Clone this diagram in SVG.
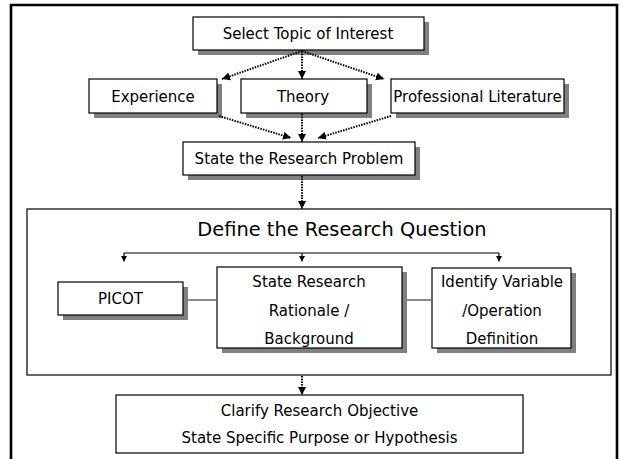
<svg xmlns="http://www.w3.org/2000/svg" width="621" height="459" viewBox="0 0 621 459">
  <style>
    text { font-family: "DejaVu Sans", "Liberation Sans", sans-serif; font-size: 15px; fill: #000; text-anchor: middle; }
    .title { font-size: 19.4px; }
    .box { fill: #fff; stroke: #000; stroke-width: 1.2; }
    .shadow { fill: #808080; }
    .frame { fill: none; stroke: #000; stroke-width: 2.6; }
    .dotted { fill: none; stroke: #000; stroke-width: 2; stroke-dasharray: 1.5 1.2; }
    .tree { fill: none; stroke: #000; stroke-width: 1.2; }
    .link { fill: none; stroke: #6e6e6e; stroke-width: 1.6; }
  </style>
  <defs>
    <marker id="arrow" markerUnits="userSpaceOnUse" markerWidth="9" markerHeight="9" refX="8" refY="4.5" orient="auto">
      <path d="M0,0.5 L8,4.5 L0,8.5 Z" fill="#000"/>
    </marker>
    <marker id="tick" markerUnits="userSpaceOnUse" markerWidth="6" markerHeight="6" refX="5.5" refY="3" orient="auto">
      <path d="M0,0 L5.5,3 L0,6 Z" fill="#000"/>
    </marker>
  </defs>

  <rect width="621" height="459" fill="#fff"/>

  <!-- outer frame, open at the bottom -->
  <path class="frame" d="M11,459 V5 H617 V459"/>

  <g id="select-topic">
    <rect class="shadow" x="198" y="22" width="231" height="33"/>
    <rect class="box" x="193" y="17" width="231" height="33"/>
    <text x="308" y="39">Select Topic of Interest</text>
  </g>

  <g id="experience">
    <rect class="shadow" x="94" y="84" width="128" height="34"/>
    <rect class="box" x="89" y="79" width="128" height="34"/>
    <text x="153" y="101.5">Experience</text>
  </g>

  <g id="theory">
    <rect class="shadow" x="246" y="84" width="126" height="34"/>
    <rect class="box" x="241" y="79" width="126" height="34"/>
    <text x="303" y="101.5">Theory</text>
  </g>

  <g id="professional-literature">
    <rect class="shadow" x="396" y="84" width="173" height="34"/>
    <rect class="box" x="391" y="79" width="173" height="34"/>
    <text x="477.5" y="101.5">Professional Literature</text>
  </g>

  <g id="research-problem">
    <rect class="shadow" x="188" y="147" width="232" height="33"/>
    <rect class="box" x="183" y="142" width="232" height="33"/>
    <text x="299" y="164">State the Research Problem</text>
  </g>

  <g id="research-question">
    <rect class="box" x="27" y="209" width="584" height="166"/>
    <text class="title" x="342" y="236">Define the Research Question</text>
  </g>

  <g id="picot">
    <rect class="shadow" x="63" y="287" width="125" height="33"/>
    <rect class="box" x="58" y="282" width="125" height="33"/>
    <text x="120.5" y="304">PICOT</text>
  </g>

  <g id="rationale">
    <rect class="shadow" x="222" y="272" width="185" height="81"/>
    <rect class="box" x="217" y="267" width="185" height="81"/>
    <text x="309" y="287">State Research</text>
    <text x="309" y="316">Rationale /</text>
    <text x="309" y="344">Background</text>
  </g>

  <g id="variables">
    <rect class="shadow" x="437" y="273" width="139" height="80"/>
    <rect class="box" x="432" y="268" width="139" height="80"/>
    <text x="502" y="287">Identify Variable</text>
    <text x="502" y="316">/Operation</text>
    <text x="502" y="344">Definition</text>
  </g>

  <g id="objective">
    <rect class="box" x="116" y="395" width="407" height="58"/>
    <text x="319.5" y="416">Clarify Research Objective</text>
    <text x="319.5" y="443">State Specific Purpose or Hypothesis</text>
  </g>

  <!-- connectors, drawn over the container box -->
  <g id="connectors">
    <path class="dotted" d="M302,51 L222,79" marker-end="url(#arrow)"/>
    <path class="dotted" d="M302,51 L302,79" marker-end="url(#arrow)"/>
    <path class="dotted" d="M302,51 L384,79" marker-end="url(#arrow)"/>
    <path class="dotted" d="M219,116 L291,138" marker-end="url(#arrow)"/>
    <path class="dotted" d="M302,114 L302,142" marker-end="url(#arrow)"/>
    <path class="dotted" d="M391,116 L318,138" marker-end="url(#arrow)"/>
    <path class="dotted" d="M302,176 L302,209" marker-end="url(#arrow)"/>
    <path class="dotted" d="M302,376 L302,395" marker-end="url(#arrow)"/>
    <path class="tree" d="M124,253 H499"/>
    <path class="tree" d="M124,253 V261.5" marker-end="url(#tick)"/>
    <path class="tree" d="M302,253 V261.5" marker-end="url(#tick)"/>
    <path class="tree" d="M499,253 V261.5" marker-end="url(#tick)"/>
    <path class="link" d="M188,300 H217"/>
    <path class="link" d="M407,300 H432"/>
  </g>
</svg>
